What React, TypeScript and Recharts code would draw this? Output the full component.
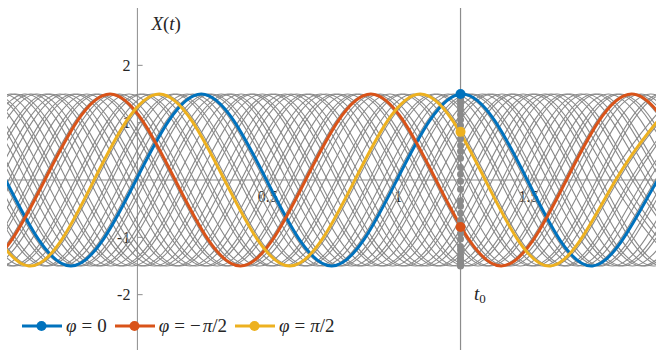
import React from "react";
import { LineChart, Line, XAxis, YAxis, ReferenceLine, ReferenceDot } from "recharts";

// X(t) = A cos(2π (t - peak)) realizations, described by amplitude, period and peak time
const AMP = 1.5;
const PERIOD = 1;
const T_MIN = -0.5;
const T_MAX = 2;
const T0 = 1.239;

// highlighted realizations: blue, red, yellow
const HI_PEAKS = [0.245, -0.105, 0.084];
const HI_AT_T0 = [1.5, -0.82, 0.84];
const HI_LABELS = ["0", "−π/2", "π/2"];
const HI_COLORS = ["#0072BD", "#D95319", "#EDB120"];

// the gray ensemble: peak time of each realization within one period
const GRAY_PEAKS = [
  0.011, 0.024, 0.058, 0.083, 0.094, 0.139, 0.152, 0.191, 0.212, 0.236,
  0.271, 0.284, 0.322, 0.347, 0.361, 0.398, 0.433, 0.446, 0.479, 0.514,
  0.529, 0.566, 0.589, 0.611, 0.648, 0.662, 0.703, 0.724, 0.757, 0.771,
  0.806, 0.838, 0.851, 0.887, 0.912, 0.931, 0.968,
];

// samples of the ensemble at t0
const GRAY_AT_T0 = [
  1.5, 1.49, 1.47, 1.44, 1.4, 1.35, 1.29, 1.22, 1.14, 1.05, 0.95, 0.84,
  0.72, 0.6, 0.5, 0.38, 0.22, 0.1, -0.02, -0.16, -0.36, -0.46, -0.58,
  -0.7, -0.81, -0.93, -1.03, -1.16, -1.22, -1.3, -1.35, -1.4, -1.44,
  -1.47, -1.49, -1.5,
];

const Y_TICKS = [-2, -1, 1, 2];
const X_TICKS = [0.5, 1, 1.5];

const GRAY = "#8a8a8a";
const AXIS = "#8c8c8c";
const TEXT = "#262626";
const FONT = "'Liberation Serif', 'Times New Roman', serif";

// peaks, zero crossings and troughs every quarter period; the natural spline rounds them
const CYCLE = [AMP, 0, -AMP, 0];
function keyPoints(peak: number) {
  const q = PERIOD / 4;
  const pts: { t: number; x: number }[] = [];
  let k = Math.floor((T_MIN - 0.3 - peak) / q);
  for (; peak + k * q <= T_MAX + 0.3; k++) {
    pts.push({ t: +(peak + k * q).toFixed(4), x: CYCLE[((k % 4) + 4) % 4] });
  }
  return pts;
}

const grayData = GRAY_PEAKS.map(keyPoints);
const hiData = HI_PEAKS.map(keyPoints);

const TextShape = (dx: number, dy: number, body: React.ReactNode, anchor = "start", size = 16) =>
  (p: any) => (
    <text x={p.cx + dx} y={p.cy + dy} textAnchor={anchor} fontFamily={FONT} fontSize={size} fill={TEXT}>
      {body}
    </text>
  );

function LegendItem({ color, label }: { color: string; label: string }) {
  return (
    <div style={{ display: "flex", alignItems: "center", marginRight: 8 }}>
      <svg width={40} height={12}>
        <line x1={0} y1={6} x2={40} y2={6} stroke={color} strokeWidth={3} />
        <circle cx={19.5} cy={6} r={5} fill={color} />
      </svg>
      <span style={{ marginLeft: 4, fontFamily: FONT, fontSize: 19, color: TEXT, whiteSpace: "nowrap" }}>
        <i>φ</i>
        <span style={{ margin: "0 5px" }}>=</span>
        {label.includes("π") ? (
          <>
            {label.startsWith("−") ? <span style={{ marginRight: 2 }}>−</span> : null}
            <i>π</i>/2
          </>
        ) : (
          label
        )}
      </span>
    </div>
  );
}

export default function App() {
  return (
    <div style={{ position: "fixed", left: 0, top: 0, width: 656, height: 350, overflow: "hidden", background: "#fff" }}>
      <LineChart width={672} height={362} margin={{ top: 8, right: 13, bottom: 10, left: 7 }}>
        <XAxis dataKey="t" type="number" domain={[T_MIN, T_MAX]} allowDataOverflow hide />
        <YAxis dataKey="x" type="number" domain={[-3, 3]} allowDataOverflow hide />

        {/* axes through the origin and the t0 marker */}
        <ReferenceLine y={0} stroke={AXIS} strokeWidth={1} zIndex={-50} />
        <ReferenceLine x={0} stroke={AXIS} strokeWidth={1} zIndex={-50} />
        <ReferenceLine x={T0} stroke={AXIS} strokeWidth={1.2} zIndex={-50} />
        {Y_TICKS.map((v) => (
          <ReferenceLine key={"yt" + v} segment={[{ x: 0, y: v }, { x: 0.02, y: v }]} stroke={AXIS} zIndex={-50} />
        ))}
        {X_TICKS.map((v) => (
          <ReferenceLine key={"xt" + v} segment={[{ x: v, y: 0 }, { x: v, y: 0.09 }]} stroke={AXIS} zIndex={-50} />
        ))}
        {Y_TICKS.map((v) => (
          <ReferenceDot key={"yl" + v} x={0} y={v} r={0} zIndex={-50} shape={TextShape(-7, 5.5, String(v), "end")} />
        ))}
        {X_TICKS.map((v) => (
          <ReferenceDot key={"xl" + v} x={v} y={0} r={0} zIndex={-50} shape={TextShape(0, 21.5, String(v), "middle")} />
        ))}
        <ReferenceDot
          x={0}
          y={3}
          r={0}
          zIndex={-50}
          shape={TextShape(14, 22, <><tspan fontStyle="italic">X</tspan>(<tspan fontStyle="italic">t</tspan>)</>, "start", 19)}
        />
        <ReferenceDot
          x={T0}
          y={-2}
          r={0}
          zIndex={-50}
          shape={TextShape(13.5, 5.5, <><tspan fontStyle="italic">t</tspan><tspan fontSize={13} dy={3}>0</tspan></>, "start", 19)}
        />

        {grayData.map((d, i) => (
          <Line
            key={"g" + i}
            data={d}
            dataKey="x"
            type="natural"
            stroke={GRAY}
            strokeWidth={1.1}
            dot={false}
            isAnimationActive={false}
          />
        ))}
        {GRAY_AT_T0.map((v, i) => (
          <ReferenceDot key={"gd" + i} x={T0} y={v} r={3.5} fill={GRAY} stroke="none" />
        ))}

        {hiData.map((d, i) => (
          <Line
            key={"h" + i}
            data={d}
            dataKey="x"
            type="natural"
            stroke={HI_COLORS[i]}
            strokeWidth={3}
            dot={false}
            isAnimationActive={false}
          />
        ))}
        {HI_AT_T0.map((v, i) => (
          <ReferenceDot key={"hd" + i} x={T0} y={v} r={5} fill={HI_COLORS[i]} stroke="none" zIndex={2000} />
        ))}
      </LineChart>

      <div style={{ position: "absolute", left: 22, top: 315, display: "flex" }}>
        {HI_LABELS.map((l, i) => (
          <LegendItem key={l} color={HI_COLORS[i]} label={l} />
        ))}
      </div>
    </div>
  );
}
